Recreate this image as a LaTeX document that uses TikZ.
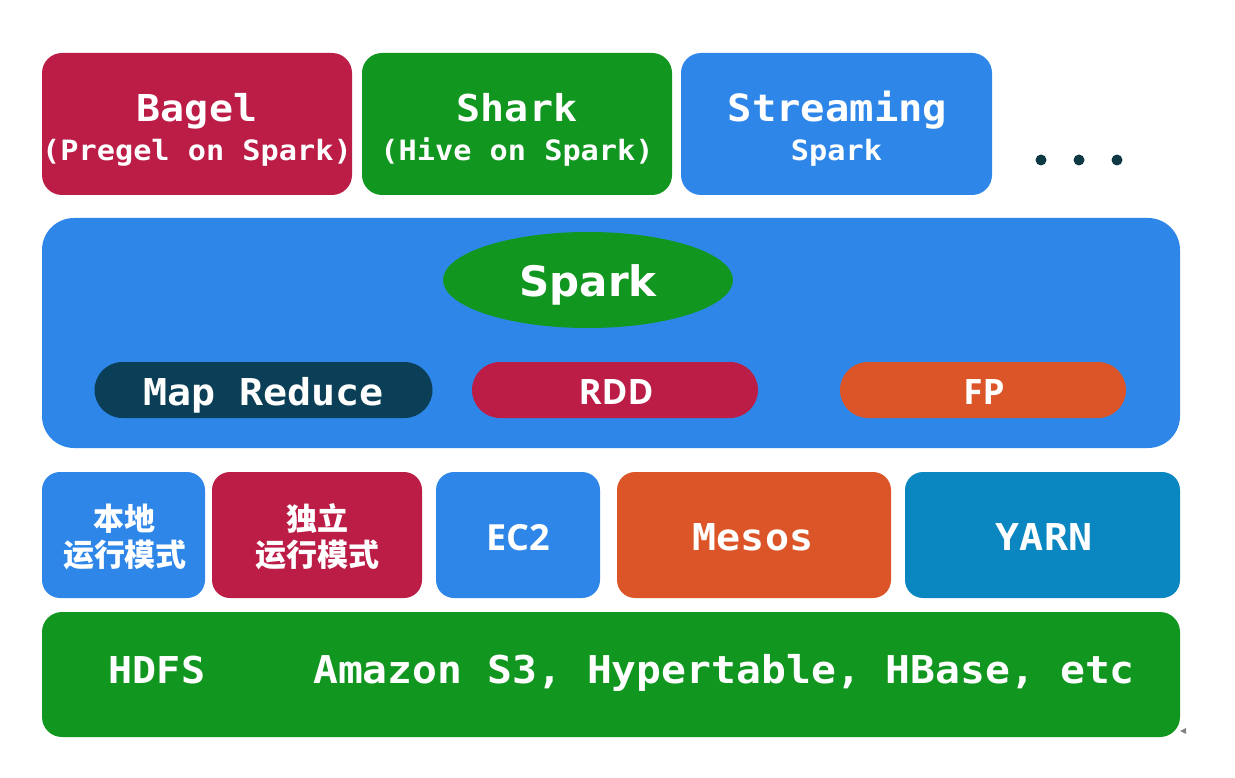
\documentclass[tikz,border=0pt]{standalone}
\usepackage{fontspec}
\usetikzlibrary{shapes.geometric}
\newfontfamily\cons[FakeStretch=1.08]{DejaVu Sans Mono}
\newfontfamily\dsans{DejaVu Sans}
\newfontfamily\osans{Open Sans}
\newfontfamily\cjk{Noto Sans CJK SC}
\definecolor{crim}{HTML}{BB1D47}
\definecolor{grn}{HTML}{11961F}
\definecolor{blu}{HTML}{2E87E8}
\definecolor{mrteal}{HTML}{0B3F57}
\definecolor{orng}{HTML}{DC5528}
\definecolor{yarnc}{HTML}{0A86C0}
\definecolor{dotc}{HTML}{0F3845}
\tikzset{
  box/.style={rectangle, rounded corners=20pt, inner sep=0pt, draw=none},
  pill/.style={rectangle, rounded corners=28pt, inner sep=0pt, draw=none, minimum height=56pt},
  txt/.style={text=white, inner sep=0pt, anchor=base},
  big/.style={txt, font=\cons\bfseries\fontsize{37}{40}\selectfont},
  small/.style={txt, font=\cons\bfseries\fontsize{28}{32}\selectfont},
  sanst/.style={txt, font=\osans\bfseries\fontsize{35}{40}\selectfont},
  cjkt/.style={text=white, inner sep=0pt, align=center, font=\cjk\bfseries\fontsize{31}{36}\selectfont},
}
\begin{document}
\begin{tikzpicture}[x=1pt,y=-1pt]
\useasboundingbox (0,0) rectangle (1235,778);
% top row
\node[box, fill=crim, minimum width=310pt, minimum height=142pt] (bagel) at (197,124) {};
\node[box, fill=grn, minimum width=310pt, minimum height=142pt] (shark) at (517,124) {};
\node[box, fill=blu, minimum width=311pt, minimum height=142pt] (stream) at (836.5,124) {};
\node[big] (bagelt) at (197,122) {Bagel};
\node[small] (bagels) at (197,161) {(Pregel on Spark)};
\node[big] (sharkt) at (517,122) {Shark};
\node[small] (sharks) at (517,161) {(Hive on Spark)};
\node[big, font=\cons\bfseries\fontsize{37.5}{40}\selectfont] (streamt) at (837.5,122) {Streaming};
\node[small] (streams) at (836.5,161) {Spark};
\fill[dotc] (1041,160) circle (5.5pt) coordinate (d1);
\fill[dotc] (1079,160) circle (5.5pt) coordinate (d2);
\fill[dotc] (1117,160) circle (5.5pt) coordinate (d3);
% spark layer
\node[box, rounded corners=32pt, fill=blu, minimum width=1138pt, minimum height=230pt] (sparkbox) at (611,333) {};
\node[ellipse, fill=grn, minimum width=290pt, minimum height=96pt, inner sep=0pt] (sparkell) at (588,280) {};
\node[txt, font=\dsans\bfseries\fontsize{42}{46}\selectfont] (sparkt) at (588,297) {Spark};
\node[pill, fill=mrteal, minimum width=338pt] (mapred) at (263.5,390) {};
\node[pill, fill=crim, minimum width=286pt] (rdd) at (615,390) {};
\node[pill, fill=orng, minimum width=286pt] (fp) at (983,390) {};
\node[big] (mapredt) at (263.5,405) {Map Reduce};
\node[sanst] (rddt) at (616,404) {RDD};
\node[sanst] (fpt) at (984,404) {FP};
% deployment row
\node[box, rounded corners=18pt, fill=blu, minimum width=163pt, minimum height=126pt] (local) at (123.5,535) {};
\node[box, rounded corners=18pt, fill=crim, minimum width=210pt, minimum height=126pt] (standalone) at (317,535) {};
\node[box, rounded corners=18pt, fill=blu, minimum width=164pt, minimum height=126pt] (ec2) at (518,535) {};
\node[box, rounded corners=18pt, fill=orng, minimum width=274pt, minimum height=126pt] (mesos) at (754,535) {};
\node[box, rounded corners=18pt, fill=yarnc, minimum width=275pt, minimum height=126pt] (yarn) at (1042.5,535) {};
\node[cjkt] (localt) at (125,537) {本地\\运行模式};
\node[cjkt] (standalonet) at (317,537) {独立\\运行模式};
\node[sanst, font=\osans\bfseries\fontsize{36}{40}\selectfont] (ec2t) at (518,550) {EC2};
\node[big] (mesost) at (753,550) {Mesos};
\node[big] (yarnt) at (1044,550) {YARN};
% storage row
\node[box, fill=grn, minimum width=1138pt, minimum height=125pt] (hdfs) at (611,674.5) {};
\node[big] (hdfst) at (157,683) {HDFS};
\node[big, font=\cons\bfseries\fontsize{38.3}{40}\selectfont] (storet) at (724,683) {Amazon S3, Hypertable, HBase, etc};
\fill[gray] (1180,731) -- (1186,728) -- (1186,734) -- cycle;
\end{tikzpicture}
\end{document}
